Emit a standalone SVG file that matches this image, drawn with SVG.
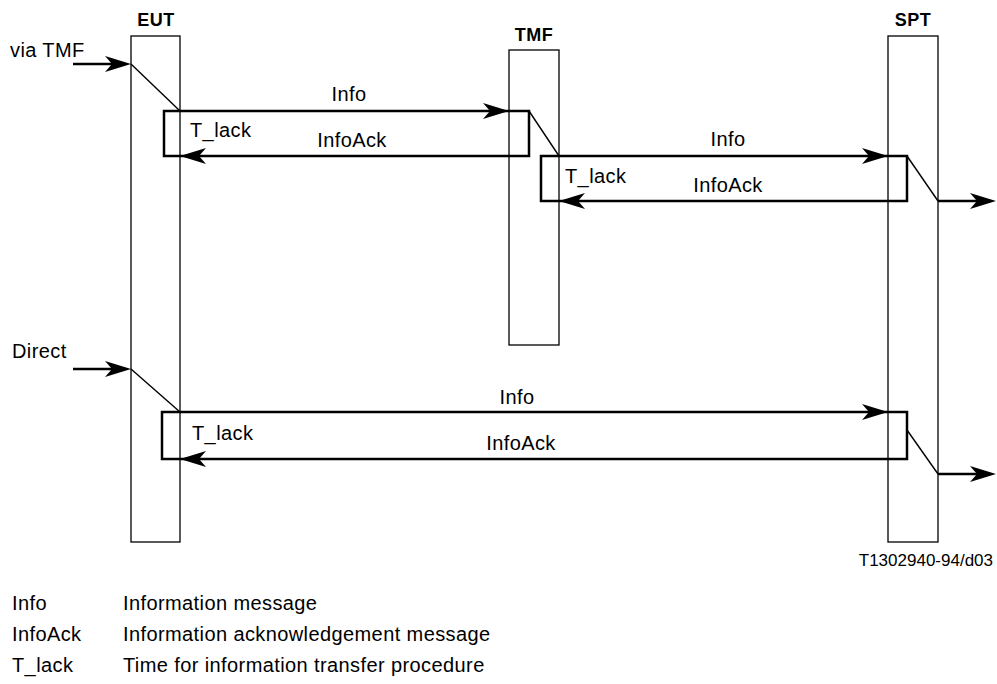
<svg xmlns="http://www.w3.org/2000/svg" xmlns:xlink="http://www.w3.org/1999/xlink" width="997" height="684" viewBox="0 0 997 684">
  <style>
    text { font-family: "Liberation Sans", Arial, sans-serif; font-size: 20px; letter-spacing: 0.4px; fill: #000; }
    .title { font-weight: bold; font-size: 18px; letter-spacing: 0.5px; text-anchor: middle; }
    .mid { text-anchor: middle; }
    .fig { font-size: 17px; letter-spacing: 0; text-anchor: end; }
    .life { fill: #fff; stroke: #000; stroke-width: 1.3; }
    .msg { fill: none; stroke: #000; stroke-width: 2.5; }
    .thin { fill: none; stroke: #000; stroke-width: 1.4; }
    .head { fill: #000; stroke: none; }
  </style>
  <defs>
    <!-- barbed arrowhead, tip at origin, pointing right -->
    <path id="ah" class="head" d="M0,0 L-26,-8 L-19,0 L-26,8 Z"/>
  </defs>

  <rect width="997" height="684" fill="#fff"/>

  <!-- lifelines -->
  <g id="eut">
    <rect class="life" x="131" y="36" width="49" height="506"/>
    <text class="title" x="156" y="26">EUT</text>
  </g>
  <g id="tmf">
    <rect class="life" x="509" y="50" width="50" height="295"/>
    <text class="title" x="534" y="41">TMF</text>
  </g>
  <g id="spt">
    <rect class="life" x="888" y="36" width="50" height="506"/>
    <text class="title" x="913" y="26">SPT</text>
  </g>

  <!-- messages and timer loops -->
  <g id="connectors">
    <!-- via TMF path -->
    <line class="msg" x1="73" y1="64" x2="120" y2="64"/>
    <use xlink:href="#ah" x="131" y="64"/>
    <line class="thin" x1="131" y1="64" x2="180" y2="111"/>
    <rect class="msg" x="164" y="111" width="365" height="45"/>
    <use xlink:href="#ah" x="509" y="111"/>
    <use xlink:href="#ah" transform="translate(180,156) rotate(180)"/>
    <line class="thin" x1="529" y1="111" x2="559" y2="156"/>
    <rect class="msg" x="541" y="156" width="366" height="45"/>
    <use xlink:href="#ah" x="888" y="156"/>
    <use xlink:href="#ah" transform="translate(559,201) rotate(180)"/>
    <line class="thin" x1="907" y1="156" x2="938" y2="201"/>
    <line class="msg" x1="938" y1="201" x2="985" y2="201"/>
    <use xlink:href="#ah" x="996" y="201"/>

    <!-- direct path -->
    <line class="msg" x1="73" y1="369" x2="120" y2="369"/>
    <use xlink:href="#ah" x="131" y="369"/>
    <line class="thin" x1="131" y1="369" x2="180" y2="412"/>
    <rect class="msg" x="162" y="412" width="745" height="47"/>
    <use xlink:href="#ah" x="888" y="412"/>
    <use xlink:href="#ah" transform="translate(180,459) rotate(180)"/>
    <line class="thin" x1="907" y1="430" x2="938" y2="474"/>
    <line class="msg" x1="938" y1="474" x2="985" y2="474"/>
    <use xlink:href="#ah" x="996" y="474"/>
  </g>

  <!-- labels -->
  <g id="labels">
    <text x="10" y="57">via TMF</text>
    <text class="mid" x="349" y="101">Info</text>
    <text x="190" y="137">T_lack</text>
    <text class="mid" x="352" y="147">InfoAck</text>
    <text class="mid" x="728" y="146">Info</text>
    <text x="565" y="183">T_lack</text>
    <text class="mid" x="728" y="192">InfoAck</text>
    <text x="12" y="358">Direct</text>
    <text class="mid" x="517" y="404">Info</text>
    <text x="192" y="440">T_lack</text>
    <text class="mid" x="521" y="450">InfoAck</text>
    <text class="fig" x="993" y="566">T1302940-94/d03</text>
  </g>

  <!-- legend -->
  <g id="legend">
    <text x="12" y="610">Info</text>
    <text x="123" y="610">Information message</text>
    <text x="12" y="641">InfoAck</text>
    <text x="123" y="641">Information acknowledgement message</text>
    <text x="12" y="672">T_lack</text>
    <text x="123" y="672">Time for information transfer procedure</text>
  </g>
</svg>
